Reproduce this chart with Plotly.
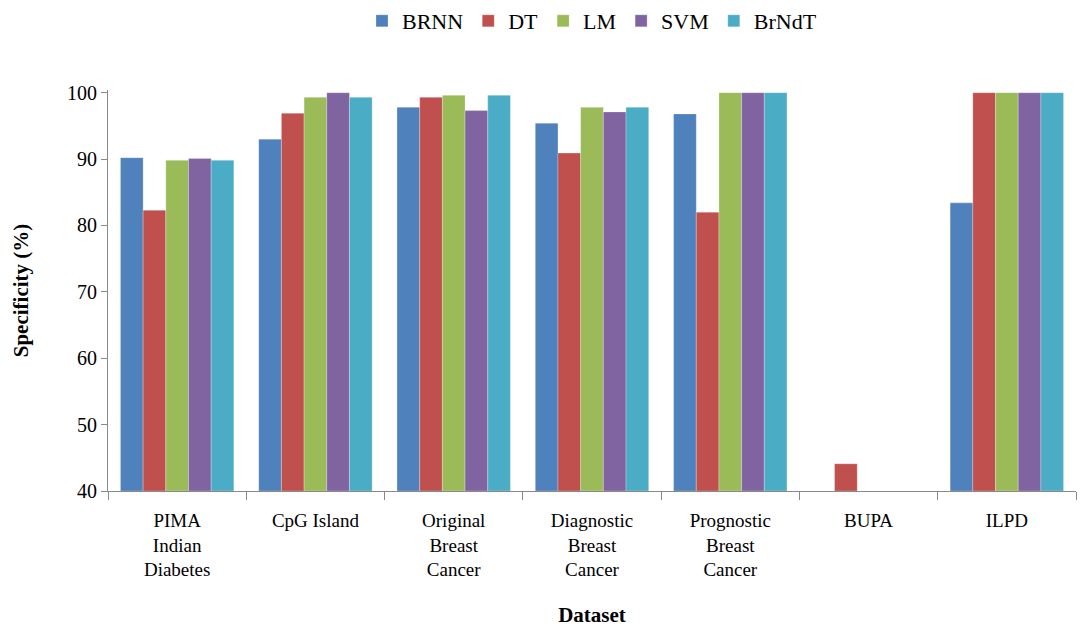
import plotly.graph_objects as go

categories = ["PIMA<br>Indian<br>Diabetes", "CpG Island", "Original<br>Breast<br>Cancer",
              "Diagnostic<br>Breast<br>Cancer", "Prognostic<br>Breast<br>Cancer", "BUPA", "ILPD"]
series_names = ["BRNN", "DT", "LM", "SVM", "BrNdT"]
brnn = [90.2, 93.0, 97.8, 95.4, 96.8, 40.0, 83.4]
dt = [82.3, 96.9, 99.3, 90.9, 82.0, 44.1, 100.0]
lm = [89.8, 99.3, 99.6, 97.8, 100.0, 40.0, 100.0]
svm = [90.1, 100.0, 97.3, 97.1, 100.0, 40.0, 100.0]
brndt = [89.8, 99.3, 99.6, 97.8, 100.0, 40.0, 100.0]
colors = ["#4F81BD", "#C0504D", "#9BBB59", "#8064A2", "#4BACC6"]

fig = go.Figure()
for name, vals, col in zip(series_names, [brnn, dt, lm, svm, brndt], colors):
    fig.add_trace(go.Bar(
        x=categories, y=[v - 40 for v in vals], base=40, name=name,
        marker=dict(color=col, line=dict(color="rgba(255,255,255,0.5)", width=0.5)),
    ))

font_family = "Liberation Serif, Times New Roman, serif"
fig.update_layout(
    width=1086, height=627,
    paper_bgcolor="white", plot_bgcolor="white",
    margin=dict(l=108, r=10, t=90, b=136),
    barmode="group", bargap=0.18, bargroupgap=0,
    font=dict(family=font_family, size=19, color="black"),
    legend=dict(orientation="h", x=0.5, xanchor="center", y=1.0, yanchor="top",
                yref="container", font=dict(size=22), traceorder="normal",
                itemwidth=30, tracegroupgap=0),
    showlegend=True,
)
fig.update_yaxes(
    range=[40, 100.4], tickvals=[40, 50, 60, 70, 80, 90, 100],
    showgrid=False, zeroline=False, showline=True, linecolor="#898989", linewidth=1,
    ticks="outside", ticklen=6, tickcolor="#898989",
    title=dict(text="<b>Specificity (%)</b>", font=dict(size=21), standoff=32),
    tickfont=dict(size=20),
)
fig.update_xaxes(
    showgrid=False, showline=True, linecolor="#898989", linewidth=1,
    ticks="outside", ticklen=8, tickcolor="#898989", tickson="boundaries",
    ticklabelstandoff=12, automargin=False,
    title=dict(text="<b>Dataset</b>", font=dict(size=21), standoff=30),
    tickfont=dict(size=19),
)
fig.write_html("out.html")
